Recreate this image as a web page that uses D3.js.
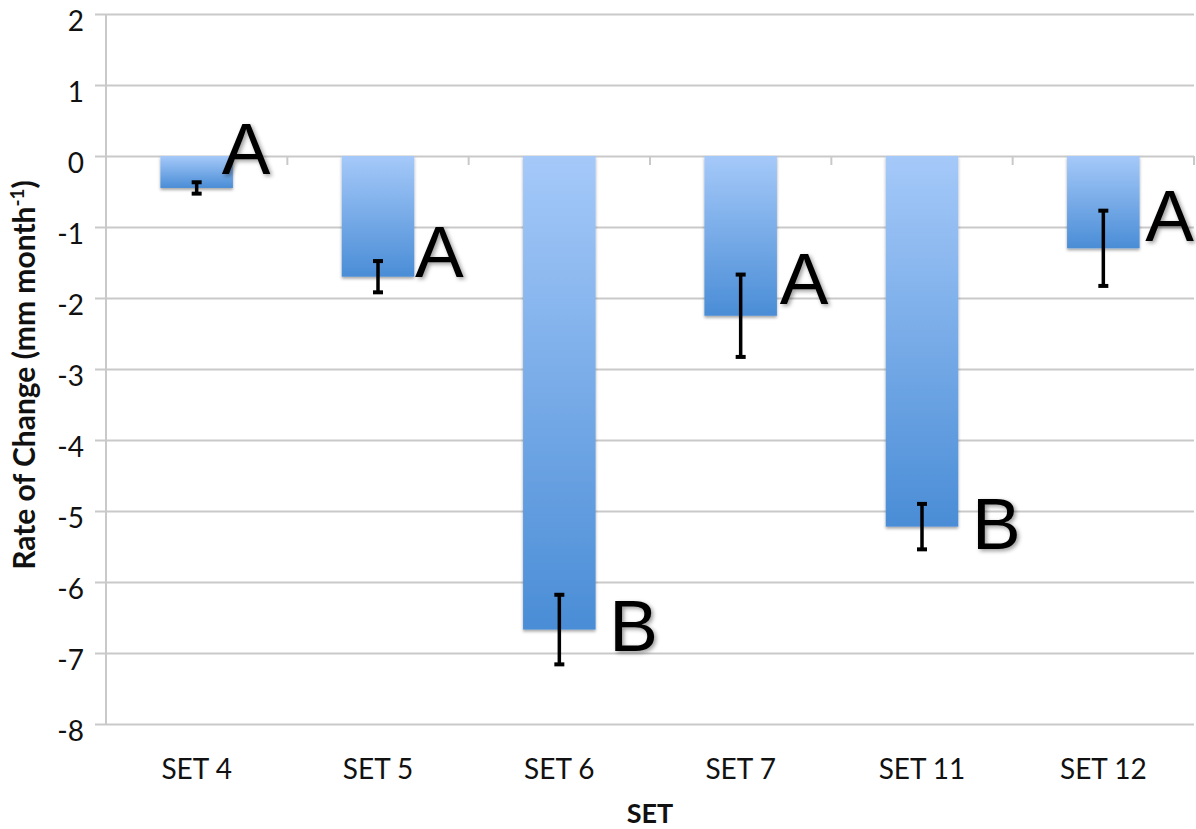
<!DOCTYPE html>
<html>
<head>
<meta charset="utf-8">
<script src="https://cdn.jsdelivr.net/npm/d3@7"></script>
<style>
  html, body { margin: 0; padding: 0; background: #fff; }
  svg { display: block; }
</style>
</head>
<body>
<div id="chart"></div>
<script>
// data
const categories = ["SET 4", "SET 5", "SET 6", "SET 7", "SET 11", "SET 12"];
const rates = [-0.45, -1.70, -6.67, -2.25, -5.22, -1.30];
const errors = [0.08, 0.22, 0.49, 0.58, 0.32, 0.53];
const groups = ["A", "A", "B", "A", "B", "A"];
// baseline of each letter, in axis units
const groupLabelAt = [-0.25, -1.71, -6.97, -2.09, -5.54, -1.20];
const yTicks = [2, 1, 0, -1, -2, -3, -4, -5, -6, -7, -8];

const labelDx = [25, 37, 50, 39, 50, 42];

const margin = { top: 14, right: 2, bottom: 105, left: 106 },
    width = 1196 - margin.left - margin.right,
    height = 829 - margin.top - margin.bottom;

const svg = d3.select("#chart")
    .append("svg")
    .attr("width", 1196)
    .attr("height", 829);

const defs = svg.append("defs");

const grad = defs.append("linearGradient")
    .attr("id", "barFill")
    .attr("x1", 0).attr("y1", 0).attr("x2", 0).attr("y2", 1);
grad.append("stop").attr("offset", "0%").attr("stop-color", "#a5c9f9");
grad.append("stop").attr("offset", "100%").attr("stop-color", "#4a8dd6");

const barShadow = defs.append("filter").attr("id", "barShadow")
    .attr("x", "-10%").attr("y", "-10%").attr("width", "120%").attr("height", "130%");
barShadow.append("feDropShadow")
    .attr("dx", 0).attr("dy", 2).attr("stdDeviation", 1.5)
    .attr("flood-color", "#000").attr("flood-opacity", 0.35);

const textShadow = defs.append("filter").attr("id", "textShadow")
    .attr("x", "-20%").attr("y", "-20%").attr("width", "150%").attr("height", "150%");
textShadow.append("feDropShadow")
    .attr("dx", 2).attr("dy", 2).attr("stdDeviation", 2)
    .attr("flood-color", "#000").attr("flood-opacity", 0.4);

const g = svg.append("g")
    .attr("transform", `translate(${margin.left},${margin.top})`);

const x = d3.scaleBand()
    .domain(categories)
    .range([0, width])
    .paddingInner(0.6)
    .paddingOuter(0.3);

const y = d3.scaleLinear()
    .domain([-8, 2])
    .range([height, 0]);

// gridlines + y labels
const yAxis = g.append("g")
    .call(d3.axisLeft(y).tickValues(yTicks).tickSize(-width).tickPadding(22).tickFormat(d => String(d)));
yAxis.select(".domain").remove();
yAxis.selectAll(".tick line")
    .attr("x1", -11)
    .attr("stroke", "#c9c9c9")
    .attr("stroke-width", 2);
yAxis.selectAll(".tick text")
    .attr("dy", "0.6em")
    .style("font-family", "Lato, 'Open Sans', sans-serif")
    .style("font-size", "28px")
    .attr("fill", "#111");

// vertical axis line
g.append("line")
    .attr("x1", 0).attr("x2", 0)
    .attr("y1", 0).attr("y2", height)
    .attr("stroke", "#c9c9c9")
    .attr("stroke-width", 2);

// category separators on the zero line
const sepX = categories.map((c, i) => i * x.step()).concat([width]);
g.selectAll(".sep")
    .data(sepX)
    .enter()
    .append("line")
    .attr("x1", d => d).attr("x2", d => d)
    .attr("y1", y(0)).attr("y2", y(0) + 9)
    .attr("stroke", "#c9c9c9")
    .attr("stroke-width", 2);

// bars
g.selectAll(".bar")
    .data(categories)
    .enter()
    .append("rect")
    .attr("x", d => x(d))
    .attr("y", y(0))
    .attr("width", x.bandwidth())
    .attr("height", (d, i) => y(rates[i]) - y(0))
    .attr("fill", "url(#barFill)")
    .attr("filter", "url(#barShadow)");

// error bars
const eb = g.selectAll(".err")
    .data(categories)
    .enter()
    .append("g")
    .attr("transform", d => `translate(${x(d) + x.bandwidth() / 2},0)`);
eb.append("line")
    .attr("y1", (d, i) => y(rates[i] + errors[i]))
    .attr("y2", (d, i) => y(rates[i] - errors[i]))
    .attr("stroke", "#000")
    .attr("stroke-width", 3.5);
[1, -1].forEach(s => {
    eb.append("line")
        .attr("x1", -5).attr("x2", 5)
        .attr("y1", (d, i) => y(rates[i] + s * errors[i]))
        .attr("y2", (d, i) => y(rates[i] + s * errors[i]))
        .attr("stroke", "#000")
        .attr("stroke-width", 4);
});

// group letters
g.selectAll(".grp")
    .data(categories)
    .enter()
    .append("text")
    .attr("x", (d, i) => x(d) + x.bandwidth() / 2 + labelDx[i])
    .attr("y", (d, i) => y(groupLabelAt[i]))
    .attr("filter", "url(#textShadow)")
    .style("font-family", "'Liberation Sans', Arial, sans-serif")
    .style("font-size", "73px")
    .attr("fill", "#000")
    .text((d, i) => groups[i]);

// category labels
g.selectAll(".cat")
    .data(categories)
    .enter()
    .append("text")
    .attr("x", d => x(d) + x.bandwidth() / 2)
    .attr("y", height + 55)
    .attr("text-anchor", "middle")
    .style("font-family", "Lato, 'Open Sans', sans-serif")
    .style("font-size", "28px")
    .attr("fill", "#111")
    .text(d => d);

// axis titles
g.append("text")
    .attr("x", width / 2)
    .attr("y", height + 99)
    .attr("text-anchor", "middle")
    .style("font-family", "Lato, 'Open Sans', sans-serif")
    .style("font-weight", "bold")
    .style("font-size", "27px")
    .attr("fill", "#111")
    .text("SET");

const yTitle = g.append("text")
    .attr("transform", `translate(${-71},${height / 2 + 6}) rotate(-90)`)
    .attr("text-anchor", "middle")
    .style("font-family", "Lato, 'Open Sans', sans-serif")
    .style("font-weight", "bold")
    .style("font-size", "30px")
    .attr("fill", "#111");
yTitle.append("tspan").text("Rate of Change (mm month");
yTitle.append("tspan").attr("dy", -11).style("font-size", "19px").text("-1");
yTitle.append("tspan").attr("dy", 11).text(")");
</script>
</body>
</html>
